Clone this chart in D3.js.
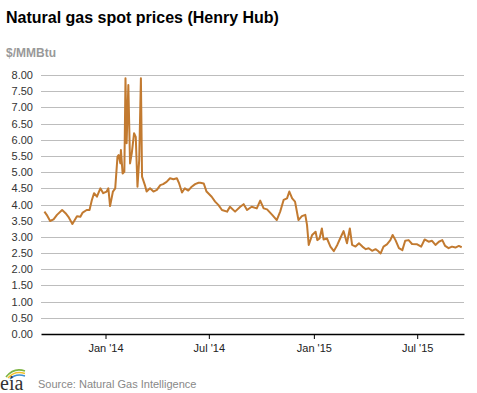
<!DOCTYPE html>
<html><head><meta charset="utf-8">
<script src="https://cdn.jsdelivr.net/npm/d3@7"></script>
<style>
html,body{margin:0;padding:0;background:#fff;}
svg{display:block;font-family:"Liberation Sans",Arial,sans-serif;}
</style></head>
<body>
<svg id="chart" width="477" height="393"></svg>
<script>
const dates = ["2013-09-16","2013-09-20","2013-09-26","2013-10-02","2013-10-08","2013-10-17","2013-10-23","2013-10-28","2013-11-04","2013-11-12","2013-11-18","2013-11-22","2013-11-29","2013-12-04","2013-12-08","2013-12-12","2013-12-17","2013-12-23","2013-12-28",
"2014-01-03","2014-01-06","2014-01-09","2014-01-14","2014-01-18","2014-01-22","2014-01-24","2014-01-27","2014-01-28","2014-01-31","2014-02-03","2014-02-05","2014-02-07","2014-02-10","2014-02-13","2014-02-16","2014-02-20","2014-02-23","2014-02-26","2014-03-01","2014-03-04","2014-03-06","2014-03-11","2014-03-14","2014-03-20","2014-03-26","2014-04-01","2014-04-07","2014-04-12","2014-04-18","2014-04-24","2014-04-30","2014-05-06","2014-05-10","2014-05-15","2014-05-20","2014-05-26","2014-06-01","2014-06-07","2014-06-13","2014-06-16","2014-06-22","2014-06-27","2014-07-06","2014-07-12","2014-07-18","2014-07-24","2014-08-02","2014-08-07","2014-08-16","2014-08-25","2014-08-31","2014-09-06","2014-09-14","2014-09-23","2014-09-29","2014-10-05","2014-10-11","2014-10-20","2014-10-28","2014-11-03","2014-11-09","2014-11-15","2014-11-19","2014-11-24","2014-11-29","2014-12-05","2014-12-11","2014-12-17","2014-12-20","2014-12-23","2014-12-29",
"2015-01-04","2015-01-07","2015-01-11","2015-01-15","2015-01-18","2015-01-24","2015-01-30","2015-02-05","2015-02-11","2015-02-16","2015-02-22","2015-02-28","2015-03-05","2015-03-09","2015-03-15","2015-03-21","2015-03-27","2015-04-02","2015-04-07","2015-04-13","2015-04-19","2015-04-23","2015-04-28","2015-05-03","2015-05-09","2015-05-15","2015-05-19","2015-05-24","2015-05-30","2015-06-05","2015-06-10","2015-06-16","2015-06-22","2015-07-01","2015-07-08","2015-07-14","2015-07-21","2015-07-27","2015-08-02","2015-08-08","2015-08-14","2015-08-19","2015-08-25","2015-08-31","2015-09-06","2015-09-12","2015-09-17"];
const prices = [3.78,3.68,3.49,3.54,3.68,3.83,3.73,3.62,3.40,3.64,3.62,3.75,3.83,3.83,4.13,4.35,4.24,4.50,4.35,
4.40,4.50,3.95,4.40,4.50,5.48,5.53,5.27,5.68,4.96,5.01,7.90,5.89,7.69,5.27,5.58,6.20,6.09,4.55,5.37,7.90,4.86,4.60,4.40,4.50,4.40,4.45,4.60,4.63,4.70,4.81,4.78,4.81,4.65,4.37,4.50,4.43,4.55,4.63,4.67,4.67,4.65,4.40,4.24,4.09,3.98,3.83,3.78,3.93,3.78,3.93,4.01,3.83,3.93,3.88,4.12,3.88,3.85,3.68,3.52,3.78,4.14,4.19,4.40,4.19,4.09,3.52,3.64,3.68,3.37,2.75,3.06,
3.16,2.90,2.95,3.26,2.92,2.95,2.70,2.56,2.75,2.95,3.18,2.80,3.26,2.75,2.70,2.80,2.70,2.62,2.65,2.57,2.62,2.57,2.49,2.70,2.77,2.90,3.06,2.90,2.65,2.59,2.88,2.90,2.78,2.77,2.70,2.92,2.85,2.88,2.75,2.85,2.90,2.72,2.65,2.70,2.67,2.72,2.68];
const yTicks = [0,0.5,1,1.5,2,2.5,3,3.5,4,4.5,5,5.5,6,6.5,7,7.5,8];
const xTickDates = ["2014-01-01","2014-07-01","2015-01-01","2015-07-01"];
const xTickLabels = ["Jan '14","Jul '14","Jan '15","Jul '15"];
const xDomain = ["2013-09-10","2015-09-21"];
const titleText = "Natural gas spot prices (Henry Hub)";
const unitText = "$/MMBtu";
const sourceText = "Source: Natural Gas Intelligence";

const parse = d3.utcParse("%Y-%m-%d");
const data = dates.map((d,i)=>({date:parse(d), v:prices[i]}));
const svg = d3.select("#chart");
const L=41, R=464, T=75, B=334;
const x = d3.scaleUtc().domain(xDomain.map(parse)).range([L,R]);
const y = d3.scaleLinear().domain([0,8]).range([B,T]);

svg.append("text").attr("x",6).attr("y",23).attr("font-size",16).attr("font-weight","bold").attr("fill","#000").text(titleText);
svg.append("text").attr("x",6).attr("y",57).attr("font-size",12).attr("font-weight","bold").attr("fill","#999").text(unitText);

// gridlines
svg.append("g").selectAll("line").data(yTicks.filter(d=>d>0)).join("line")
  .attr("x1",L).attr("x2",R).attr("y1",d=>Math.round(y(d))+0.5).attr("y2",d=>Math.round(y(d))+0.5)
  .attr("stroke","#bdbdbd").attr("stroke-width",1);

// y labels
svg.append("g").selectAll("text").data(yTicks).join("text")
  .attr("x",33).attr("y",d=>y(d)+4).attr("text-anchor","end").attr("font-size",11).attr("fill","#333")
  .text(d=>d3.format(".2f")(d));

// x axis
const xa = d3.axisBottom(x).tickValues(xTickDates.map(parse)).tickFormat((d,i)=>xTickLabels[i]).tickSize(5).tickSizeOuter(0);
const gx = svg.append("g").attr("transform",`translate(0,${B})`).call(xa);
gx.select(".domain").attr("stroke","#000").attr("stroke-width",1.5);
gx.selectAll(".tick line").attr("stroke","#000");
gx.selectAll(".tick text").attr("font-size",11).attr("fill","#222").attr("font-family","Liberation Sans, Arial, sans-serif").attr("dy","0.9em");

// line
svg.append("path").datum(data).attr("fill","none").attr("stroke","#c27a30").attr("stroke-width",2).attr("stroke-linejoin","round")
  .attr("d", d3.line().x(d=>x(d.date)).y(d=>y(d.v)));

// logo
const lg = svg.append("g");
lg.append("path").attr("d","M6,377 Q14,367 25,371").attr("fill","none").attr("stroke","#7cb342").attr("stroke-width",1.6);
lg.append("path").attr("d","M8,378 Q15,370 25,373.5").attr("fill","none").attr("stroke","#f2c12e").attr("stroke-width",1.6);
lg.append("path").attr("d","M10,379 Q16,373 25,376").attr("fill","none").attr("stroke","#3d8fd1").attr("stroke-width",1.4);
lg.append("text").attr("x",0).attr("y",390).attr("font-family","Liberation Serif, DejaVu Serif, serif").attr("font-size",20).attr("fill","#333").text("eia");

svg.append("text").attr("x",38).attr("y",388).attr("font-size",11).attr("fill","#888").text(sourceText);
</script>
</body></html>
